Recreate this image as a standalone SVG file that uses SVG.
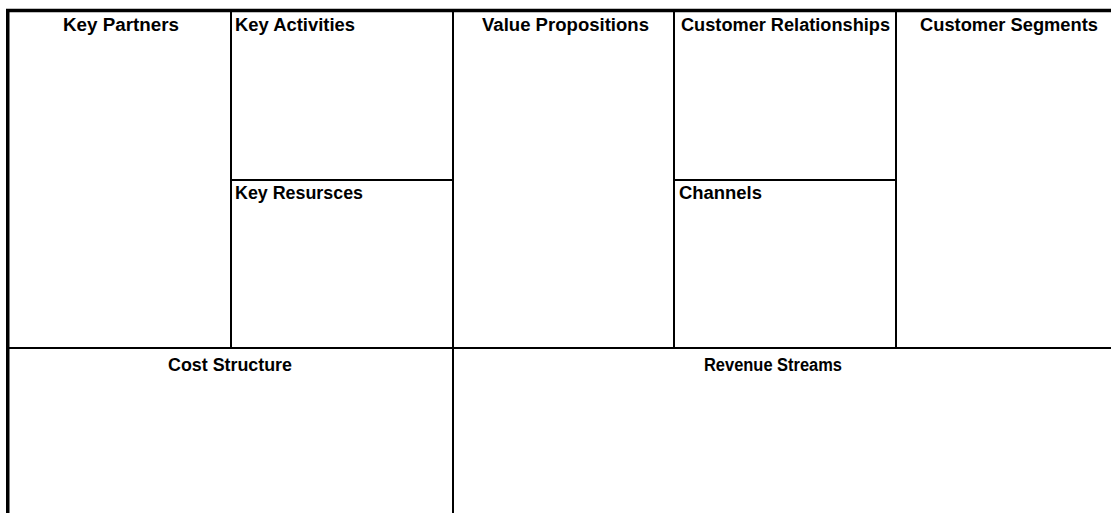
<svg xmlns="http://www.w3.org/2000/svg" width="1111" height="513" viewBox="0 0 1111 513">
  <style>
    .ln { stroke: #000; stroke-width: 2; fill: none; }
    .outer { stroke: #000; stroke-width: 3.5; fill: none; }
    .t { font-family: "Liberation Sans", Arial, sans-serif; font-weight: bold; font-size: 17.5px; fill: #000; }
  </style>
  <rect x="0" y="0" width="1111" height="513" fill="#fff"/>
  <g id="connectors">
    <line class="outer" x1="7.75" y1="9" x2="7.75" y2="513"/>
    <line class="outer" x1="6" y1="10.5" x2="1111" y2="10.5"/>
    <line class="ln" x1="231" y1="12" x2="231" y2="348"/>
    <line class="ln" x1="453" y1="12" x2="453" y2="513"/>
    <line class="ln" x1="674" y1="12" x2="674" y2="348"/>
    <line class="ln" x1="896" y1="12" x2="896" y2="348"/>
    <line class="ln" x1="231" y1="180" x2="453" y2="180"/>
    <line class="ln" x1="674" y1="180" x2="896" y2="180"/>
    <line class="ln" x1="9" y1="348" x2="1111" y2="348"/>
  </g>
  <g id="key-partners"><text class="t" x="63" y="31" textLength="116" lengthAdjust="spacingAndGlyphs">Key Partners</text></g>
  <g id="key-activities"><text class="t" x="235" y="31" textLength="120" lengthAdjust="spacingAndGlyphs">Key Activities</text></g>
  <g id="key-resources"><text class="t" x="235" y="199" textLength="128" lengthAdjust="spacingAndGlyphs">Key Resursces</text></g>
  <g id="value-propositions"><text class="t" x="482" y="31" textLength="167" lengthAdjust="spacingAndGlyphs">Value Propositions</text></g>
  <g id="customer-relationships"><text class="t" x="681" y="31" textLength="209" lengthAdjust="spacingAndGlyphs">Customer Relationships</text></g>
  <g id="channels"><text class="t" x="679" y="199" textLength="83" lengthAdjust="spacingAndGlyphs">Channels</text></g>
  <g id="customer-segments"><text class="t" x="920" y="31" textLength="178" lengthAdjust="spacingAndGlyphs">Customer Segments</text></g>
  <g id="cost-structure"><text class="t" x="168" y="371" textLength="124" lengthAdjust="spacingAndGlyphs">Cost Structure</text></g>
  <g id="revenue-streams"><text class="t" x="704" y="371" textLength="138" lengthAdjust="spacingAndGlyphs">Revenue Streams</text></g>
</svg>
